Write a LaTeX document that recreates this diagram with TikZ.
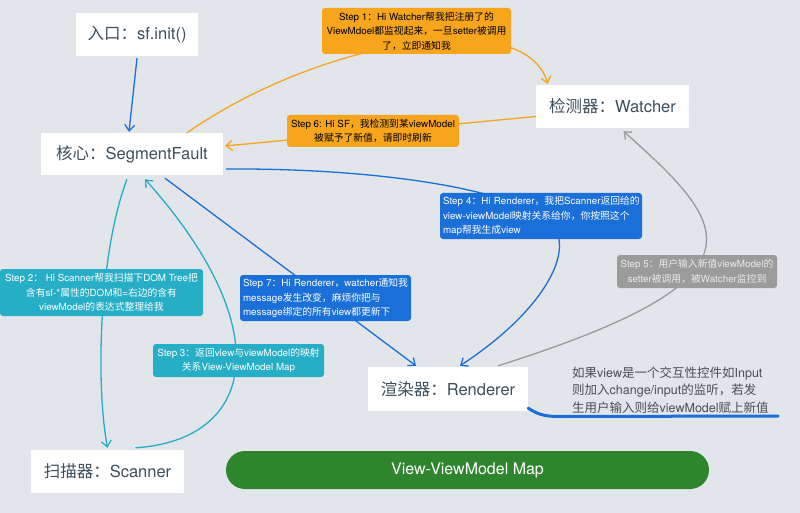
\documentclass[tikz,border=0pt]{standalone}
\usepackage{fontspec}
\setmainfont{TeX Gyre Heros}
\newfontfamily\cjkfont{Noto Sans CJK SC}
\usetikzlibrary{arrows.meta}
\XeTeXinterchartokenstate=1
\ifdefined\newXeTeXintercharclass
  \newXeTeXintercharclass\CJKcls
\else
  \chardef\CJKcls=7
\fi
\makeatletter
\count@="3000
\loop\XeTeXcharclass\count@=\CJKcls\ifnum\count@<"303F\advance\count@ by 1\repeat
\count@="4E00
\loop\XeTeXcharclass\count@=\CJKcls\ifnum\count@<"9FFF\advance\count@ by 1\repeat
\count@="FF00
\loop\XeTeXcharclass\count@=\CJKcls\ifnum\count@<"FFEF\advance\count@ by 1\repeat
\makeatother
\XeTeXinterchartoks 0 \CJKcls={\cjkfont}
\XeTeXinterchartoks 4095 \CJKcls={\cjkfont}
\XeTeXinterchartoks \CJKcls 0={\rmfamily}
\XeTeXinterchartoks \CJKcls 4095={\rmfamily}
\definecolor{bgc}{HTML}{E2E5EA}
\definecolor{ntext}{HTML}{3D4F5D}
\definecolor{orangeC}{HTML}{F7A51C}
\definecolor{blueC}{HTML}{1B6FD8}
\definecolor{tealC}{HTML}{26AEC6}
\definecolor{greyC}{HTML}{9B9B9B}
\definecolor{greenC}{HTML}{2E852E}
\definecolor{annoC}{HTML}{4A4F55}
\begin{document}
\begin{tikzpicture}[x=1pt,y=-1pt,
  mainbox/.style={fill=white, text=ntext, inner sep=0pt, font=\fontsize{16.5}{20}\selectfont},
  lbl/.style={rounded corners=3pt, inner sep=0pt, font=\fontsize{9.8}{14.5}\selectfont,
    execute at begin node={\hyphenpenalty=10000\exhyphenpenalty=10000\hbadness=10000\hfuzz=20pt}},
  conn/.style={line width=1.3pt, -{Straight Barb[length=6pt,width=10pt,line width=1.3pt]}},
  oline/.style={conn, draw=orangeC},
  bline/.style={conn, draw=blueC},
  tline/.style={conn, draw=tealC},
  gline/.style={conn, draw=greyC},
  ulline/.style={line width=3pt, draw=blueC, line cap=round}
]
\fill[bgc] (0,0) rectangle (800,513);
\useasboundingbox (0,0) rectangle (800,513);

% main boxes
\node[mainbox, minimum width=122pt, minimum height=43pt] (entry) at (137,34.5) {入口：sf.init()};
\node[mainbox, minimum width=182pt, minimum height=42pt] (core) at (132,154) {核心：SegmentFault};
\node[mainbox, minimum width=153pt, minimum height=43pt] (watcher) at (612.5,106.5) {检测器：Watcher};
\node[mainbox, minimum width=160pt, minimum height=44pt] (renderer) at (448,389) {渲染器：Renderer};
\node[mainbox, minimum width=153pt, minimum height=43pt] (scanner) at (107.5,471.5) {扫描器：Scanner};
\node[fill=greenC, text=white, rounded corners=19pt, minimum width=483pt, minimum height=38pt, inner sep=0pt,
      font=\fontsize{16}{20}\selectfont] (map) at (467.5,470) {View-ViewModel Map};

% connectors
\draw[bline] ([yshift=-2pt]entry.south) -- ([xshift=-3pt,yshift=1pt]core.north);
\draw[oline] ([xshift=55pt]core.north) .. controls (320,40) and (525,5) .. ([xshift=12pt,yshift=1pt]watcher.north west);
\draw[oline] ([yshift=-10pt]watcher.west) -- ([xshift=2pt,yshift=8pt]core.east);
\coordinate (m4) at (552,225);
\draw[bline] ([xshift=3pt,yshift=-15pt]core.east) .. controls (380,168) and (520,190) .. (m4) .. controls (575,250) and (545,310) .. ([xshift=12pt,yshift=1pt]renderer.north);
\draw[bline] ([xshift=33pt,yshift=-3pt]core.south) -- ([xshift=-32pt,yshift=1pt]renderer.north);
\draw[tline] ([xshift=-5pt,yshift=-4pt]core.south) .. controls (100,250) and (95,380) .. ([yshift=2pt]scanner.north);
\draw[tline] ([xshift=28pt,yshift=2pt]scanner.north) .. controls (255,440) and (280,330) .. ([xshift=13pt,yshift=-4pt]core.south);
\draw[gline] ([xshift=50pt,yshift=1pt]renderer.north) .. controls (779,277) and (727,224) .. ([xshift=11pt,yshift=-3pt]watcher.south);

% underline of the note
\coordinate (ulend) at (778,416);
\draw[ulline] ([yshift=3pt]renderer.south east) .. controls (540,416) and (548,416.5) .. (562,416.5) -- (ulend);

% labels
\node[lbl, fill=orangeC, text=black, align=center, minimum width=189pt, minimum height=46pt] (s1) at (416.5,31)
  {Step 1：Hi Watcher帮我把注册了的\\ViewMdoel都监视起来，一旦setter被调用\\了，立即通知我};
\node[lbl, fill=orangeC, text=black, align=center, minimum width=172pt, minimum height=32pt] (s6) at (373,131)
  {Step 6: Hi SF，我检测到某viewModel\\被赋予了新值，请即时刷新};
\node[lbl, fill=blueC, text=white, align=left, inner xsep=3pt, text width=196pt, minimum height=46pt] (s4) at (541,216)
  {Step~4：Hi~Renderer，我把Scanner返回给的\\view-viewModel映射关系给你，你按照这个\\map帮我生成view};
\node[lbl, fill=blueC, text=white, align=left, inner xsep=3pt, text width=165pt, minimum height=46pt] (s7) at (325.5,298)
  {Step~7：Hi~Renderer，watcher通知我\\message发生改变，麻烦你把与\\message绑定的所有view都更新下};
\node[lbl, fill=greyC, text=white!92!black, align=center, minimum width=160pt, minimum height=33pt] (s5) at (697,271.5)
  {Step 5：用户输入新值viewModel的\\setter被调用，被Watcher监控到};
\node[lbl, fill=tealC, text=white, align=center, minimum width=203pt, minimum height=47pt] (s2) at (101.5,292.5)
  {Step 2：  Hi Scanner帮我扫描下DOM Tree把\\含有sf-*属性的DOM和=右边的含有\\viewModel的表达式整理给我};
\node[lbl, fill=tealC, text=white, align=center, minimum width=171pt, minimum height=33pt] (s3) at (238.5,360.5)
  {Step 3：返回view与viewModel的映射\\关系View-ViewModel Map};

% note
\node[anchor=west, inner sep=0pt, align=left, text=annoC, font=\fontsize{12.5}{17.5}\selectfont] (note) at (572,390)
  {如果view是一个交互性控件如Input\\则加入change/input的监听，若发\\生用户输入则给viewModel赋上新值};
\end{tikzpicture}
\end{document}
